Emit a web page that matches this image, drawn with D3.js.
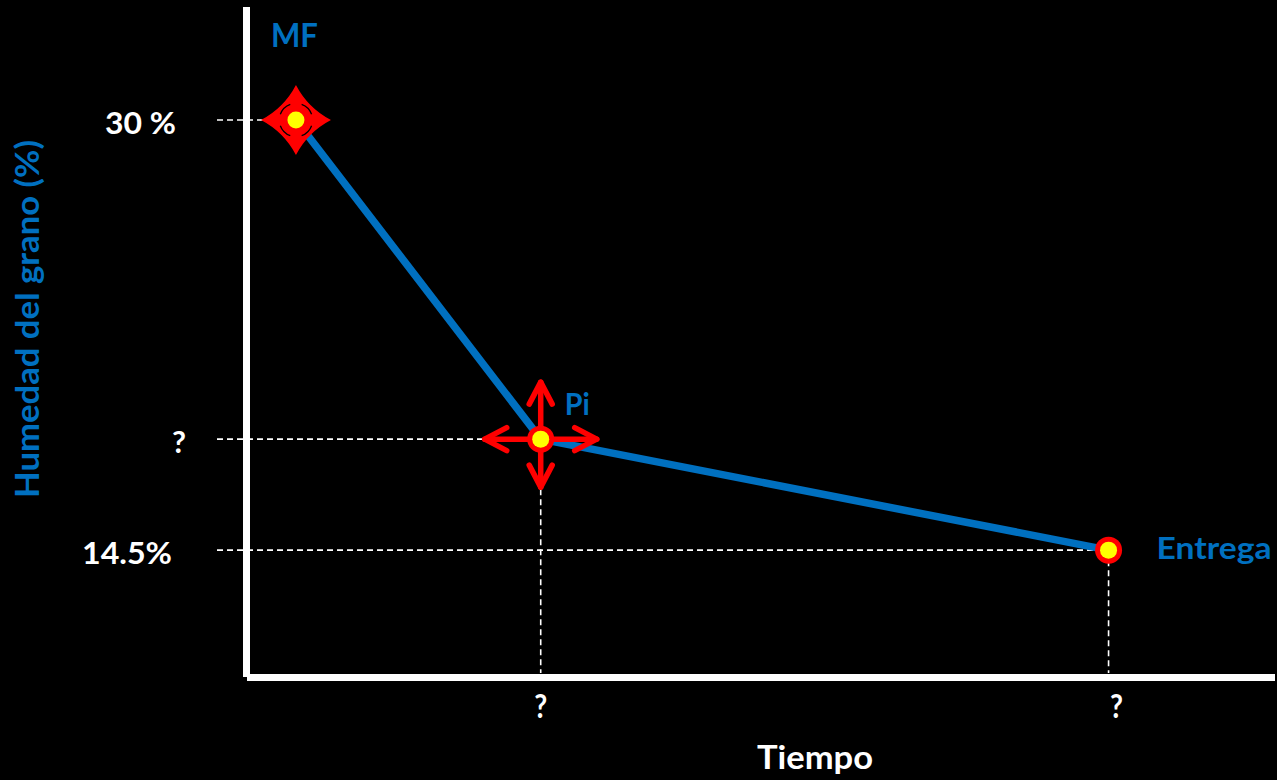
<!DOCTYPE html>
<html>
<head>
<meta charset="utf-8">
<script src="https://cdn.jsdelivr.net/npm/d3@7/dist/d3.min.js"></script>
<style>
  html, body { margin: 0; padding: 0; background: #000; }
  svg { display: block; }
  text { font-family: Lato, "Open Sans", sans-serif; font-weight: 700; }
</style>
</head>
<body>
<svg id="chart" width="1277" height="780"></svg>
<script>
// Drying stages of the grain: moisture (%) over time
const stages   = ["MF", "Pi", "Entrega"];
const tiempo   = [1, 6, 17.6];          // time (arbitrary units)
const humedad  = [30, 18.5, 14.5];       // grain moisture, %
const yTickValues = [30, 18.5, 14.5];
const yTickLabels = ["30 %", "?", "14.5%"];
const xTickValues = [6, 17.6];
const xTickLabels = ["?", "?"];

const BLUE = "#0070C0", RED = "#FF0000", YELLOW = "#FFFF00";

const svg = d3.select("#chart");
const x = d3.scaleLinear().domain([0, 21]).range([247, 1275]);
const y = d3.scaleLinear().domain([10, 34]).range([675, 9]);

const pts = stages.map((s, i) => ({ s, t: tiempo[i], h: humedad[i] }));

// Dashed guides to the axes
const guides = svg.append("g").attr("stroke", "#fff").attr("stroke-width", 1.6)
  .attr("stroke-dasharray", "6,4").attr("fill", "none");
pts.forEach(p => {
  guides.append("line").attr("x1", 217).attr("x2", x(p.t))
    .attr("y1", y(p.h)).attr("y2", y(p.h));
  if (xTickValues.includes(p.t)) {
    guides.append("line").attr("x1", x(p.t)).attr("x2", x(p.t))
      .attr("y1", y(p.h)).attr("y2", y(10) - 2);
  }
});

// Axes
svg.append("line").attr("x1", 246.5).attr("x2", 246.5).attr("y1", 7).attr("y2", 677)
  .attr("stroke", "#fff").attr("stroke-width", 7);
svg.append("line").attr("x1", 247).attr("x2", 1275).attr("y1", y(10) + 2.5).attr("y2", y(10) + 2.5)
  .attr("stroke", "#fff").attr("stroke-width", 7);

// Moisture curve
svg.append("path")
  .datum(pts)
  .attr("d", d3.line().x(d => x(d.t)).y(d => y(d.h)))
  .attr("fill", "none").attr("stroke", BLUE).attr("stroke-width", 7.5)
  .attr("stroke-linejoin", "miter");

// Markers
function dot(g, cx, cy) {
  g.append("circle").attr("cx", cx).attr("cy", cy).attr("r", 13.5).attr("fill", RED);
  g.append("circle").attr("cx", cx).attr("cy", cy).attr("r", 8.5).attr("fill", YELLOW);
}
const marks = svg.append("g");

// MF: four-point star with concave sides
{
  const p = pts[0], cx = x(p.t), cy = y(p.h);
  const R = 35, c = 12;
  const dirs = [[0, -1], [1, 0], [0, 1], [-1, 0]];
  let d = "";
  dirs.forEach(([dx, dy], i) => {
    const [nx, ny] = dirs[(i + 1) % 4];
    const tip = [cx + dx * R, cy + dy * R];
    const next = [cx + nx * R, cy + ny * R];
    d += (i === 0 ? "M" : "L") + tip[0] + "," + tip[1];
    d += "Q" + (cx + (dx + nx) * c) + "," + (cy + (dy + ny) * c) + " " + next[0] + "," + next[1];
  });
  marks.append("path").attr("d", d + "Z").attr("fill", RED);
  // dark seams between the arrow heads
  const arc = d3.arc().innerRadius(16).outerRadius(17.3);
  [[20, 70], [110, 160], [200, 250], [290, 340]].forEach(([a0, a1]) => {
    marks.append("path")
      .attr("d", arc({ startAngle: a0 * Math.PI / 180, endAngle: a1 * Math.PI / 180 }))
      .attr("transform", `translate(${cx},${cy})`).attr("fill", "#000");
  });
  dot(marks, cx, cy);
}

// Pi: four arrows
{
  const p = pts[1], cx = x(p.t), cy = y(p.h);
  const arms = [[0, -1, 57], [1, 0, 56], [0, 1, 48], [-1, 0, 56]];
  const ag = marks.append("g").attr("stroke", RED).attr("stroke-width", 5.5)
    .attr("stroke-linecap", "round").attr("stroke-linejoin", "round").attr("fill", "none");
  arms.forEach(([dx, dy, L]) => {
    const tx = cx + dx * L, ty = cy + dy * L;
    ag.append("line").attr("x1", cx).attr("y1", cy).attr("x2", tx).attr("y2", ty);
    const bx = tx - dx * 22, by = ty - dy * 22;
    const px = -dy * 11.5, py = dx * 11.5;
    ag.append("path").attr("d", `M${bx + px},${by + py}L${tx},${ty}L${bx - px},${by - py}`);
  });
  dot(marks, cx, cy);
}

// Entrega
dot(marks, x(pts[2].t), y(pts[2].h));

// Stage labels
const labelOffset = { MF: [-25, -73, 47], Pi: [24, -24, 25], Entrega: [48, 9, 115] };
const labelSize = { MF: 32, Pi: 30, Entrega: 30 };
pts.forEach(p => {
  const [ox, oy, len] = labelOffset[p.s];
  svg.append("text").attr("x", x(p.t) + ox).attr("y", y(p.h) + oy)
    .attr("fill", BLUE).attr("font-size", labelSize[p.s])
    .attr("textLength", len).attr("lengthAdjust", "spacingAndGlyphs")
    .text(p.s);
});

// Y tick labels
const yLen = { "30 %": 71, "?": 14, "14.5%": 90 };
const yEnd = { "30 %": 176, "?": 186, "14.5%": 172 };
yTickValues.forEach((v, i) => {
  const lab = yTickLabels[i];
  svg.append("text").attr("x", yEnd[lab]).attr("y", y(v) + 14)
    .attr("text-anchor", "end").attr("fill", "#fff").attr("font-size", 31)
    .attr("textLength", yLen[lab]).attr("lengthAdjust", "spacingAndGlyphs")
    .text(lab);
});

// X tick labels
xTickValues.forEach((v, i) => {
  svg.append("text").attr("x", x(v) + (i === 0 ? 0 : 8)).attr("y", 718)
    .attr("text-anchor", "middle").attr("fill", "#fff").attr("font-size", 32)
    .attr("textLength", 13).attr("lengthAdjust", "spacingAndGlyphs")
    .text(xTickLabels[i]);
});

// Axis titles
svg.append("text").attr("x", 815).attr("y", 769).attr("text-anchor", "middle")
  .attr("fill", "#fff").attr("font-size", 32)
  .attr("textLength", 116).attr("lengthAdjust", "spacingAndGlyphs")
  .text("Tiempo");
svg.append("text").attr("transform", "translate(39,319) rotate(-90)")
  .attr("text-anchor", "middle").attr("fill", BLUE).attr("font-size", 32)
  .attr("textLength", 358).attr("lengthAdjust", "spacingAndGlyphs")
  .text("Humedad del grano (%)");
</script>
</body>
</html>
